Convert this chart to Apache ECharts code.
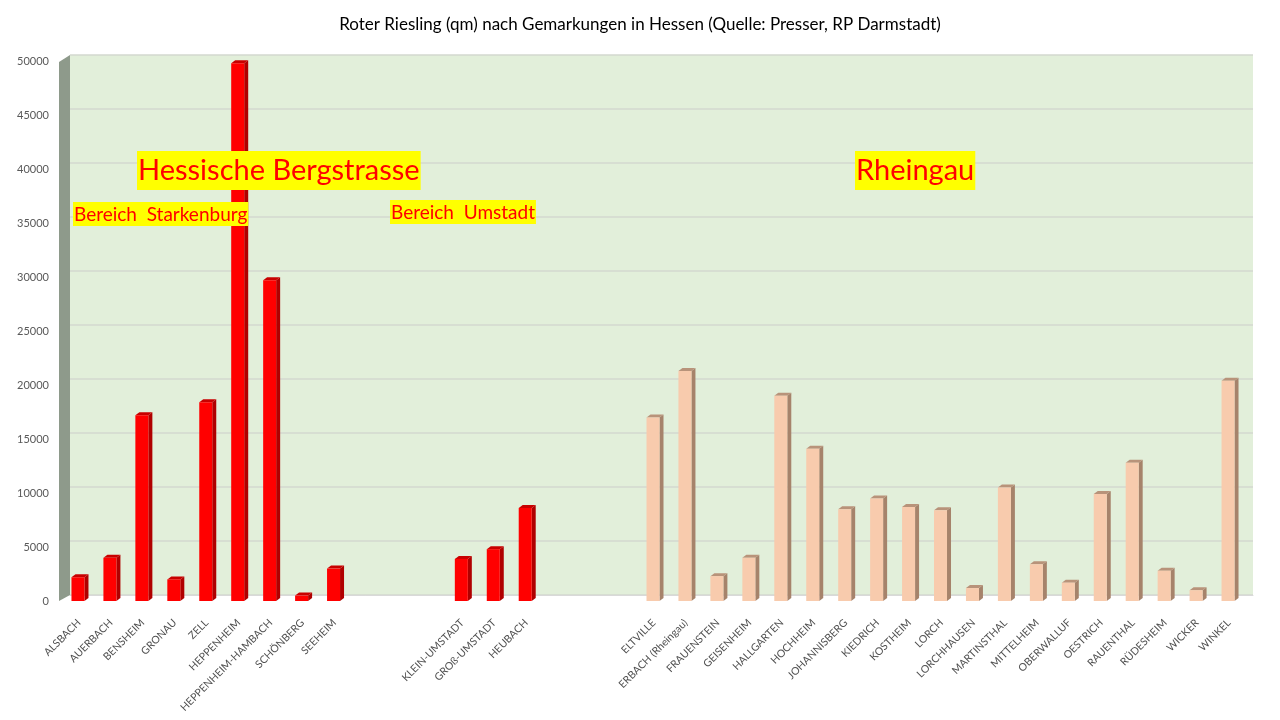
<!DOCTYPE html>
<html lang="de">
<head>
    <meta charset="UTF-8">
    <title>Roter Riesling</title>
    <style>
        html, body { margin: 0; padding: 0; background: #fff; }
    </style>
</head>
<body>
<div id="main" style="width: 1280px;height:720px;"></div>
</body>
<script src="https://cdn.jsdelivr.net/npm/echarts@6/dist/echarts.min.js"></script>
<script>

// Gemarkungen je Bereich
const starkenburg = ['ALSBACH', 'AUERBACH', 'BENSHEIM', 'GRONAU', 'ZELL', 'HEPPENHEIM',
    'HEPPENHEIM-HAMBACH', 'SCHÖNBERG', 'SEEHEIM']
const starkenburgValues = [2200, 4000, 17200, 2000, 18400, 49800, 29700, 500, 3000]

const umstadt = ['KLEIN-UMSTADT', 'GROß-UMSTADT', 'HEUBACH']
const umstadtValues = [3900, 4800, 8600]

const rheingau = ['ELTVILLE', 'ERBACH (Rheingau)', 'FRAUENSTEIN', 'GEISENHEIM', 'HALLGARTEN',
    'HOCHHEIM', 'JOHANNISBERG', 'KIEDRICH', 'KOSTHEIM', 'LORCH', 'LORCHHAUSEN', 'MARTINSTHAL',
    'MITTELHEIM', 'OBERWALLUF', 'OESTRICH', 'RAUENTHAL', 'RÜDESHEIM', 'WICKER', 'WINKEL']
const rheingauValues = [17000, 21300, 2300, 4000, 19000, 14100, 8500, 9500, 8700, 8400,
    1200, 10500, 3400, 1700, 9900, 12800, 2800, 1000, 20400]

const yTicks = [0, 5000, 10000, 15000, 20000, 25000, 30000, 35000, 40000, 45000, 50000]

const GAP = 3
const FONT = 'Lato, "Open Sans", sans-serif'

// categories with empty slots between the groups
let categories = []
let redData = []
let peachData = []
const pushGap = () => {
    for (let i = 0; i < GAP; i++) categories.push('')
}
starkenburg.forEach((name, i) => {
    redData.push([categories.length, starkenburgValues[i]])
    categories.push(name)
})
pushGap()
umstadt.forEach((name, i) => {
    redData.push([categories.length, umstadtValues[i]])
    categories.push(name)
})
pushGap()
rheingau.forEach((name, i) => {
    peachData.push([categories.length, rheingauValues[i]])
    categories.push(name)
})

// 3d-ish column: front face, right side, top
function bar3d(colors) {
    return function (params, api) {
        const idx = api.value(0)
        const base = api.coord([idx, 0])
        const top = api.coord([idx, api.value(1)])
        const bw = 13
        const d = 4
        const x0 = base[0] - bw / 2 - 1
        const x1 = x0 + bw
        const y0 = top[1]
        const y1 = base[1]
        return {
            type: 'group',
            children: [
                {
                    type: 'polygon',
                    shape: { points: [[x1, y0], [x1 + d, y0 - d + 1], [x1 + d, y1 - d + 1], [x1, y1]] },
                    style: { fill: colors.side }
                },
                {
                    type: 'polygon',
                    shape: { points: [[x0, y0], [x0 + d, y0 - d + 1], [x1 + d, y0 - d + 1], [x1, y0]] },
                    style: { fill: colors.top }
                },
                {
                    type: 'rect',
                    shape: { x: x0, y: y0, width: bw, height: y1 - y0 },
                    style: { fill: colors.front }
                }
            ]
        }
    }
}

const labelBox = (text, left, top, size, pad) => ({
    type: 'text',
    left: left,
    top: top,
    z: 100,
    style: {
        text: text,
        fill: '#ff0000',
        font: size + 'px ' + FONT,
        backgroundColor: '#ffff00',
        padding: pad
    }
})

let chartDom = document.getElementById('main')
let myChart = echarts.init(chartDom)
let option

option = {
    backgroundColor: '#ffffff',
    animation: false,
    title: {
        text: 'Roter Riesling (qm) nach Gemarkungen in Hessen (Quelle: Presser, RP Darmstadt)',
        left: 'center',
        top: 11,
        textStyle: { fontFamily: FONT, fontSize: 17, fontWeight: 'normal', color: '#000' }
    },
    grid: [
        // back wall
        {
            left: 70, right: 27, top: 55, bottom: 125,
            show: true, backgroundColor: '#e2efda', borderWidth: 0
        },
        // front plane
        {
            left: 63, right: 35, top: 61, bottom: 119
        }
    ],
    xAxis: [
        {
            gridIndex: 0, type: 'category', data: categories,
            axisLine: { show: true, lineStyle: { color: '#d9d9d9' } },
            axisTick: { show: false }, axisLabel: { show: false }
        },
        {
            gridIndex: 1, type: 'category', data: categories,
            axisLine: { show: false }, axisTick: { show: false },
            axisLabel: {
                interval: 0, rotate: 45, fontSize: 10.5, color: '#505050',
                fontFamily: FONT, margin: 20
            }
        }
    ],
    yAxis: [
        {
            gridIndex: 0, type: 'value', min: 0, max: 50000, interval: 5000,
            axisLabel: { show: false },
            splitLine: { lineStyle: { color: '#d3d9cf', width: 1.5 } }
        },
        {
            gridIndex: 1, type: 'value', min: yTicks[0], max: yTicks[yTicks.length - 1], interval: 5000,
            axisLabel: {
                fontSize: 11, color: '#595959', fontFamily: FONT, margin: 14,
                formatter: (v) => String(v)
            },
            splitLine: { show: false }
        }
    ],
    graphic: [
        // grey side wall on the left
        {
            type: 'polygon',
            z: 1,
            shape: { points: [[59, 62], [70, 55], [70, 595], [59, 601]] },
            style: { fill: '#8e9a8b' }
        },
        labelBox('Hessische Bergstrasse', 137, 151, 29, [5, 1, 5, 1]),
        labelBox('Bereich  Starkenburg', 73, 202, 19, [3, 1, 2, 1]),
        labelBox('Bereich  Umstadt', 390, 200, 19, [3, 1, 2, 1]),
        labelBox('Rheingau', 855, 151, 29, [5, 1, 5, 1])
    ],
    series: [
        {
            name: 'Hessische Bergstrasse',
            type: 'custom',
            xAxisIndex: 1, yAxisIndex: 1,
            renderItem: bar3d({ front: '#ff0000', side: '#b00000', top: '#c80000' }),
            data: redData,
            z: 10
        },
        {
            name: 'Rheingau',
            type: 'custom',
            xAxisIndex: 1, yAxisIndex: 1,
            renderItem: bar3d({ front: '#f8cbad', side: '#a6836b', top: '#b8937a' }),
            data: peachData,
            z: 10
        }
    ]
}
option && myChart.setOption(option)

</script>
</html>
